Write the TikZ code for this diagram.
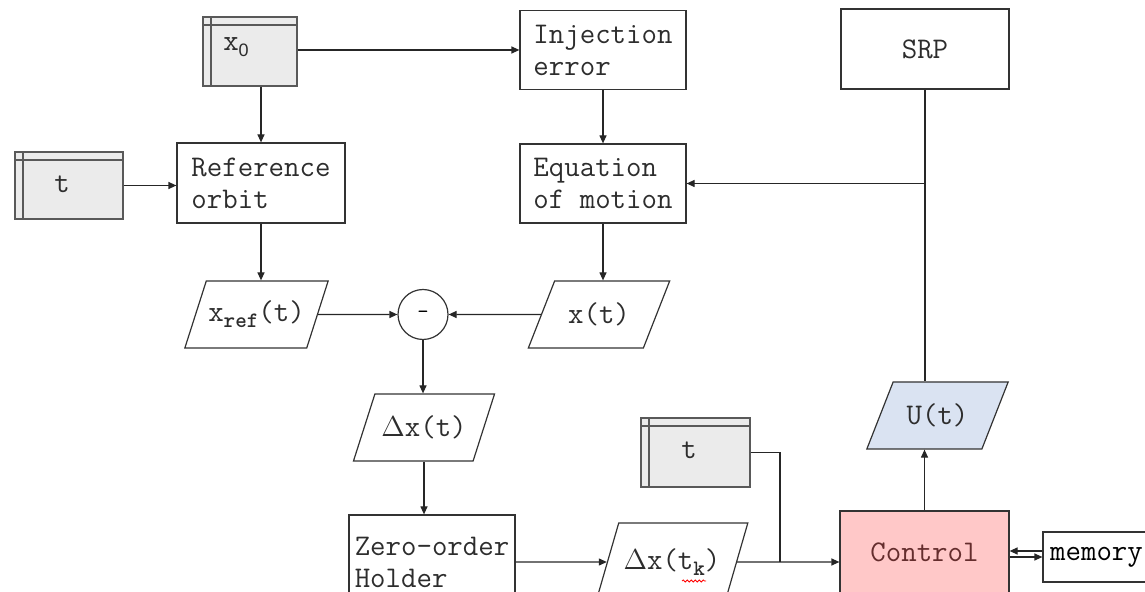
\documentclass[tikz,border=0pt]{standalone}
\usepackage{fontspec}
\setsansfont{Liberation Sans}
\usetikzlibrary{positioning,arrows.meta,shapes.geometric,decorations.pathmorphing}
\definecolor{storegray}{RGB}{235,235,235}
\definecolor{ctrlpink}{RGB}{255,200,200}
\definecolor{ctrltext}{RGB}{100,45,45}
\definecolor{ublue}{RGB}{218,227,242}
\definecolor{ink}{RGB}{45,45,45}
\newcommand{\subtxt}[1]{\raisebox{-3pt}{\fontsize{11}{11}\selectfont\bfseries #1}}
\newcommand{\dlt}{$\Delta$}
\tikzset{
  lbl/.style={font=\ttfamily\fontsize{15}{16}\selectfont,text=ink},
  blk/.style={lbl,draw=black!80,line width=0.6pt,align=left,inner sep=2pt,
    minimum width=83pt,minimum height=39.5pt},
  store/.style={draw=black!65,fill=storegray,line width=0.6pt,inner sep=0pt,
    path picture={
      \draw[black!65,line width=0.6pt]
        ([xshift=4pt]path picture bounding box.north west) --
        ([xshift=4pt]path picture bounding box.south west);
      \draw[black!65,line width=0.6pt]
        ([yshift=-4pt]path picture bounding box.north west) --
        ([yshift=-4pt]path picture bounding box.north east);}},
  io/.style={lbl,draw=black!80,line width=0.6pt,shape=trapezium,
    trapezium left angle=62,trapezium right angle=118,trapezium stretches=true,
    minimum width=71pt,minimum height=33.5pt,inner xsep=1pt},
  sumc/.style={circle,draw=black!80,line width=0.6pt,minimum size=25pt,inner sep=0pt},
  arr/.style={-{Triangle[length=4pt,width=3.5pt]},line width=0.6pt,black!85},
  wire/.style={line width=0.6pt,black!85},
}
\begin{document}
\begin{tikzpicture}[x=0.5pt,y=-0.5pt]
  \useasboundingbox (0,0) rectangle (1145,592);
  \clip (0,0) rectangle (1145,592);
  % data stores
  \node[store,minimum width=47pt,minimum height=34.5pt] (x0) at (250,51.5) {};
  \node[lbl] (x0l) at (236,47) {x\raisebox{-3pt}{\sffamily\fontsize{9}{9}\selectfont 0}};
  \node[store,minimum width=54pt,minimum height=33.5pt] (tl) at (69,185.5) {};
  \node[lbl] (tll) at (62,184) {t};
  \node[store,minimum width=54.5pt,minimum height=34.5pt] (tb) at (695.5,452.5) {};
  \node[lbl] (tbl) at (689,450) {t};
  % process blocks
  \node[blk,minimum width=84pt,minimum height=40pt] (ref) at (261,183) {Reference\\orbit};
  \node[blk] (inj) at (603,50) {Injection\\error};
  \node[blk] (eom) at (603,183.5) {Equation\\of motion};
  \node[blk,minimum width=84pt,minimum height=40pt] (srp) at (925,49) {SRP};
  \node[blk,minimum height=47pt] (zoh) at (432,562) {Zero-order\\Holder};
  \node[blk,fill=ctrlpink,text=ctrltext,minimum width=84.5pt,minimum height=41pt] (ctrl) at (924.5,552) {Control};
  \node[blk,text=black,minimum width=53.5pt,minimum height=25pt] (mem) at (1096.5,557) {memory};
  % signals
  \node[io] (xref) at (256.5,314.5) {x\subtxt{ref}(t)};
  \node[io] (xt) at (599,314.5) {x(t)};
  \node[sumc] (dif) at (423,314.5) {\ttfamily\fontsize{11}{11}\selectfont -};
  \node[io] (dxt) at (424,427.5) {\dlt x(t)};
  \node[io,minimum width=76pt,minimum height=39pt] (dxtk) at (672,562) {\dlt x(t\subtxt{k})};
  \node[io,fill=ublue] (ut) at (937.5,415.5) {U(t)};
  \draw[red,line width=0.4pt,decorate,decoration={snake,amplitude=0.5pt,segment length=2pt}]
    ([xshift=5pt,yshift=-9.5pt]dxtk.center) -- ++(12pt,0);
  % connectors
  \draw[arr] (inj.west -| x0.east) -- (inj.west);
  \draw[arr] (ref.north |- x0.south) -- (ref.north);
  \draw[arr] (tl.east) -- (tl.east -| ref.west);
  \draw[arr] (inj) -- (eom);
  \draw[arr] (ref.south) -- (ref.south |- xref.north);
  \draw[arr] (eom.south) -- (eom.south |- xt.north);
  \draw[arr] (xref.east) -- (dif.west);
  \draw[arr] (xt.west) -- (dif.east);
  \draw[arr] (dif.south) -- (dif.south |- dxt.north);
  \draw[arr] (dxt.south) -- (dxt.south |- zoh.north);
  \draw[arr] (zoh) -- (dxtk);
  \draw[arr] (dxtk) -- (dxtk -| ctrl.west);
  \coordinate (tj) at (780,562);
  \draw[wire] (tb.east) -| (tj);
  \draw[arr] (ctrl.north) -- (ctrl.north |- ut.south);
  \draw[wire] (srp.south) -- (srp.south |- ut.north);
  \draw[arr] (srp.south |- eom.east) -- (eom.east);
  \draw[arr] ([yshift=3pt]mem.west) -- ([yshift=3pt]mem.west -| ctrl.east);
  \draw[arr] (mem.west -| ctrl.east) -- (mem.west);
\end{tikzpicture}
\end{document}
